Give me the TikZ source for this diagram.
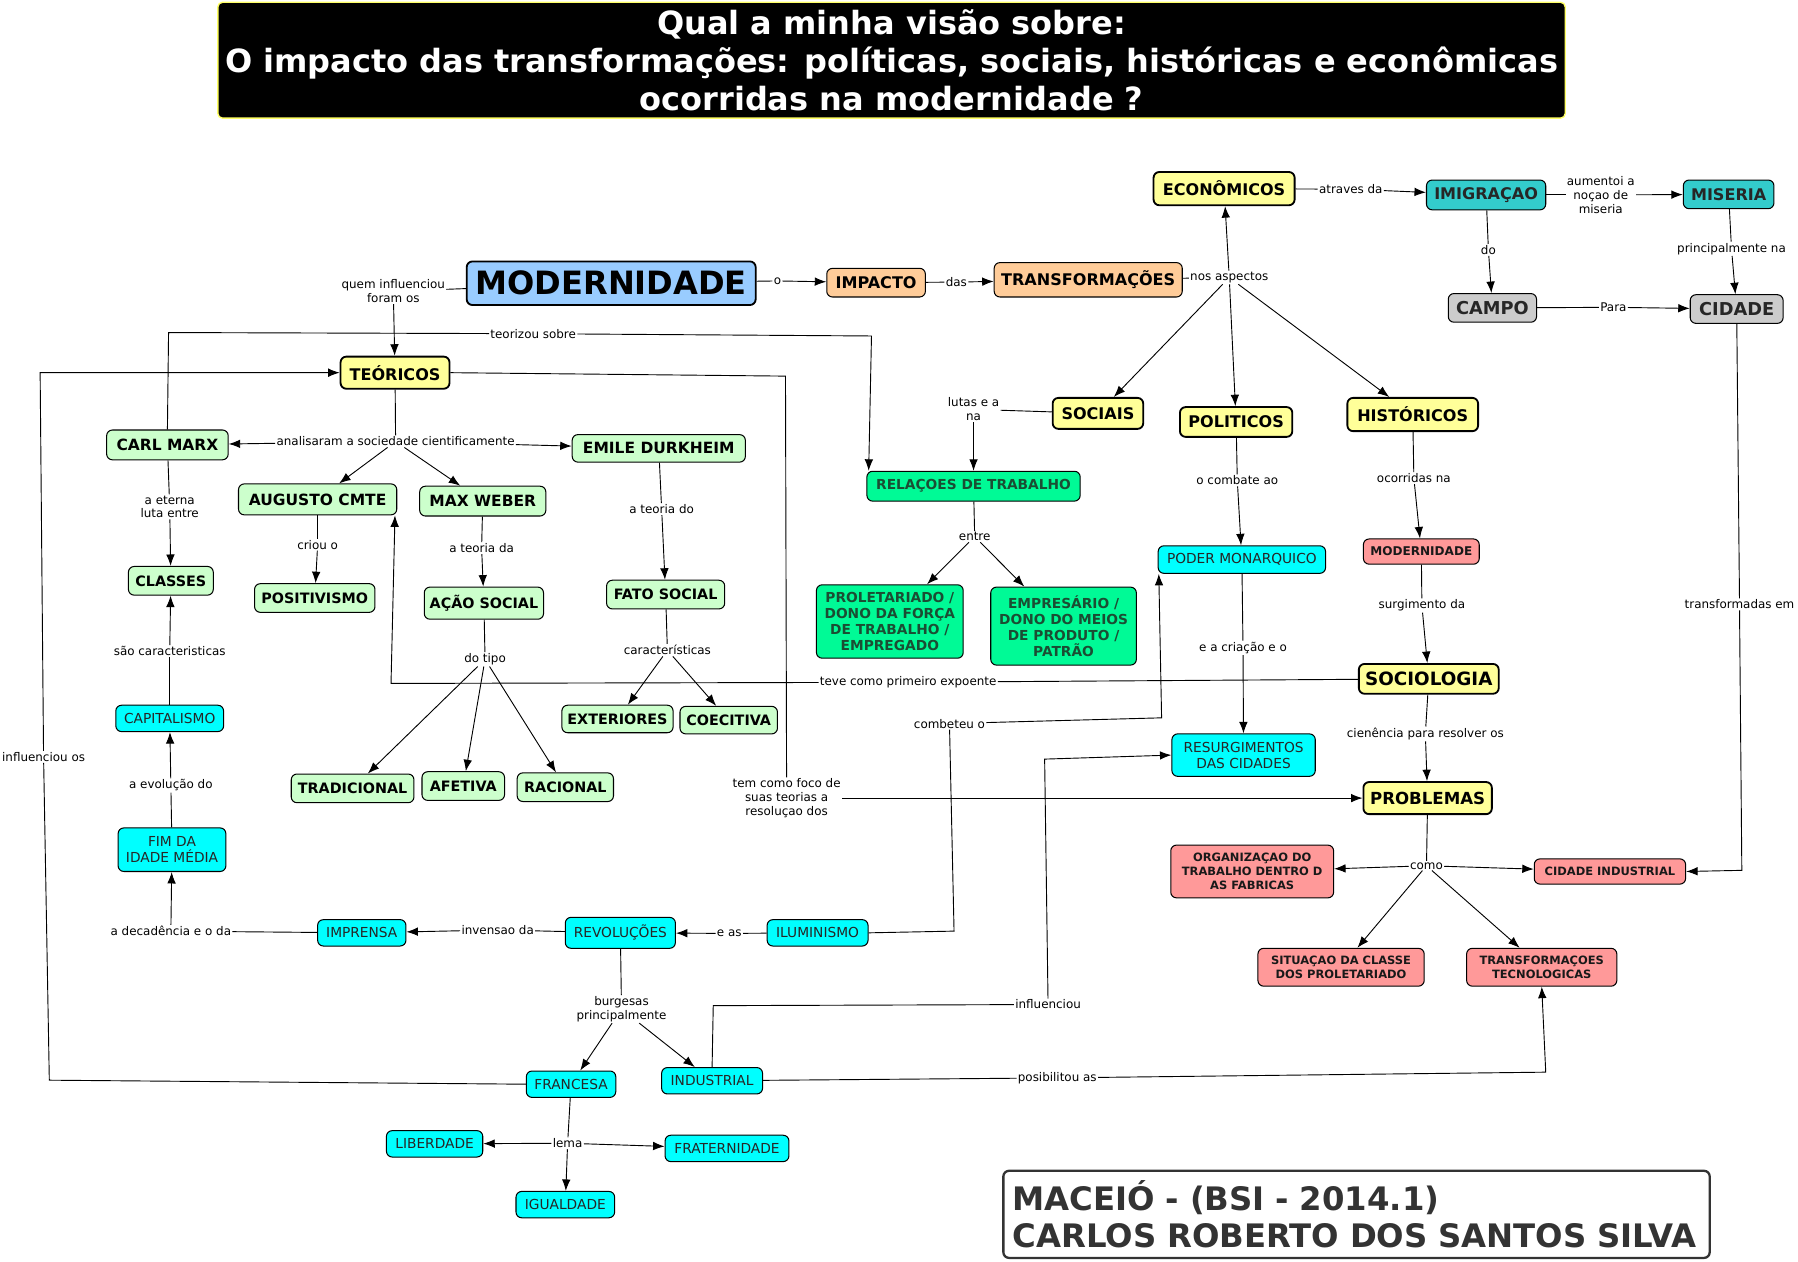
\documentclass[tikz,border=0pt]{standalone}
\usepackage{fontspec}
\setmainfont{DejaVu Sans}
\usetikzlibrary{arrows.meta,calc}
\definecolor{cyel}{HTML}{FFFF99}
\definecolor{cblue}{HTML}{99CCFF}
\definecolor{corange}{HTML}{FFCC99}
\definecolor{cteal}{HTML}{33CCCC}
\definecolor{cgray}{HTML}{CCCCCC}
\definecolor{clgreen}{HTML}{CCFFCC}
\definecolor{cgreen}{HTML}{00FA96}
\definecolor{cgtext}{HTML}{1B4D33}
\definecolor{ccyan}{HTML}{00FFFF}
\definecolor{csalmon}{HTML}{FF9999}
\definecolor{cdark}{HTML}{333333}
\definecolor{ctitleb}{HTML}{FFFF66}
\newcommand\myfs[2]{\fontsize{#1}{#2}\selectfont}
\begin{document}
\begin{tikzpicture}[x=1pt,y=-1pt,
  box/.style={draw=black, rounded corners=5pt, line width=0.9pt, align=center, inner sep=1pt},
  sz/.style 2 args={minimum width=#1, minimum height=#2},
  yel/.style={box, fill=cyel, line width=1.6pt, font=\myfs{14}{16}\bfseries},
  blu/.style={box, fill=cblue, line width=1.6pt, font=\myfs{28}{32}\bfseries},
  ora/.style={box, fill=corange, font=\myfs{14}{16}\bfseries},
  tea/.style={box, fill=cteal, font=\myfs{14}{16}\bfseries, text=black!85},
  gry/.style={box, fill=cgray, font=\myfs{15.5}{17}\bfseries, text=black!85},
  lgr/.style={box, fill=clgreen, font=\myfs{13.5}{16}\bfseries},
  lgs/.style={box, fill=clgreen, font=\myfs{12.5}{15}\bfseries},
  grn/.style={box, fill=cgreen, font=\myfs{12}{14}\bfseries, text=cgtext},
  cya/.style={box, fill=ccyan, font=\myfs{12}{14}, text=black!85},
  sal/.style={box, fill=csalmon, font=\myfs{10}{12.5}\bfseries, text=black!90},
  lab/.style={font=\myfs{10.4}{12}, align=center, inner sep=1pt},
  conn/.style={line width=0.8pt},
  arr/.style={-{Latex[length=10pt,width=7.5pt]}}
]
\useasboundingbox (0,0) rectangle (1568,1100);

% title and author
\node[fill=black, draw=ctitleb, line width=1.2pt, rounded corners=4pt, sz={1175}{101},
      text=white, font=\myfs{27.9}{33}\bfseries, align=center, inner sep=0pt] (title) at (777.5,52.5)
  {Qual a minha visão sobre:\\O impacto das transformações: políticas, sociais, históricas e econômicas\\ocorridas na modernidade ?};
\node[draw=cdark, line width=2pt, rounded corners=5pt, fill=white, text=cdark,
      font=\myfs{28.2}{32}\bfseries, align=left, text width=600pt, inner xsep=8pt, inner ysep=6pt, minimum height=76] (author) at (1183,1059)
  {MACEIÓ - (BSI - 2014.1)\\CARLOS ROBERTO DOS SANTOS SILVA};

% concept nodes
\node[blu, sz={252}{38}] (modern) at (533,247) {MODERNIDADE};
\node[ora, sz={86}{25}] (impacto) at (764,246.5) {IMPACTO};
\node[ora, sz={164}{30}] (transf) at (949,244) {TRANSFORMAÇÕES};
\node[yel, sz={123}{29}] (econ) at (1067.5,164.5) {ECONÔMICOS};
\node[tea, sz={104}{26}] (imig) at (1296,170) {IMIGRAÇAO};
\node[tea, sz={79}{25}] (miseria) at (1507.5,169.5) {MISERIA};
\node[gry, sz={77}{25}] (campo) at (1301.5,268.5) {CAMPO};
\node[gry, sz={81}{25}] (cidade) at (1514.5,269.5) {CIDADE};
\node[yel, sz={79}{27}] (sociais) at (957.5,360.5) {SOCIAIS};
\node[yel, sz={98}{26}] (politicos) at (1078,368) {POLITICOS};
\node[yel, sz={114}{29}] (historicos) at (1232,361.5) {HISTÓRICOS};
\node[grn, sz={186}{26}] (relacoes) at (849,424) {RELAÇOES DE TRABALHO};
\node[grn, sz={128}{64}] (prolet) at (776,542) {PROLETARIADO /\\DONO DA FORÇA\\DE TRABALHO /\\EMPREGADO};
\node[grn, sz={127}{68}] (empres) at (927.5,546) {EMPRESÁRIO /\\DONO DO MEIOS\\DE PRODUTO /\\PATRÃO};
\node[cya, sz={146}{24}] (poder) at (1083,488) {PODER MONARQUICO};
\node[sal, sz={101}{22}, font=\myfs{10.5}{12}\bfseries] (modern2) at (1239.5,481) {MODERNIDADE};
\node[yel, sz={122}{26}, font=\myfs{16}{18}\bfseries] (sociol) at (1246,592) {SOCIOLOGIA};
\node[cya, sz={125}{37}] (resurg) at (1084.5,658.5) {RESURGIMENTOS\\DAS CIDADES};
\node[yel, sz={112}{28}, font=\myfs{14.5}{16}\bfseries] (problemas) at (1245,696) {PROBLEMAS};
\node[sal, sz={142}{46}] (orga) at (1092,760) {ORGANIZAÇAO DO\\TRABALHO DENTRO D\\AS FABRICAS};
\node[sal, sz={132}{22}] (cidind) at (1404,760) {CIDADE INDUSTRIAL};
\node[sal, sz={145}{33}] (situ) at (1169.5,843.5) {SITUAÇAO DA CLASSE\\DOS PROLETARIADO};
\node[sal, sz={131}{33}] (ttec) at (1344.5,843.5) {TRANSFORMAÇOES\\TECNOLOGICAS};

\node[yel, sz={95}{28}] (teoricos) at (344.5,325) {TEÓRICOS};
\node[lgr, sz={106}{26}] (carl) at (146,388) {CARL MARX};
\node[lgr, sz={151}{24}] (emile) at (574.5,391) {EMILE DURKHEIM};
\node[lgr, sz={138}{27}] (augusto) at (277,435.5) {AUGUSTO CMTE};
\node[lgr, sz={110}{26}] (maxweber) at (421,437) {MAX WEBER};
\node[lgs, sz={74}{25}] (classes) at (149,506.5) {CLASSES};
\node[lgs, sz={105}{25}] (positiv) at (274.5,521.5) {POSITIVISMO};
\node[lgs, sz={104}{28}] (acao) at (422,526) {AÇÃO SOCIAL};
\node[lgs, sz={103}{25}] (fato) at (580.5,518.5) {FATO SOCIAL};
\node[lgs, sz={97}{24}] (exter) at (538.5,627) {EXTERIORES};
\node[lgs, sz={85}{24}] (coec) at (635.5,628) {COECITIVA};
\node[lgs, sz={107}{25}] (tradic) at (307.5,687.5) {TRADICIONAL};
\node[lgs, sz={72}{25}] (afetiva) at (404,685.5) {AFETIVA};
\node[lgs, sz={84}{25}] (racional) at (493,686.5) {RACIONAL};
\node[cya, sz={94}{23}] (capital) at (148,626.5) {CAPITALISMO};
\node[cya, sz={94}{38}] (fim) at (150,741) {FIM DA\\IDADE MÉDIA};
\node[cya, sz={77}{23}] (imprensa) at (315.5,813.5) {IMPRENSA};
\node[cya, sz={96}{27}] (revol) at (541,813.5) {REVOLUÇÕES};
\node[cya, sz={88}{23}] (ilum) at (713,813.5) {ILUMINISMO};
\node[cya, sz={78}{23}] (francesa) at (498,945.5) {FRANCESA};
\node[cya, sz={88}{23}] (industrial) at (621,942.5) {INDUSTRIAL};
\node[cya, sz={84}{23}] (liberd) at (379,997.5) {LIBERDADE};
\node[cya, sz={108}{23}] (frat) at (634,1001.5) {FRATERNIDADE};
\node[cya, sz={86}{23}] (igual) at (493,1050.5) {IGUALDADE};

% linking phrases
\node[lab] (lo) at (678,245) {o};
\node[lab] (ldas) at (834,246) {das};
\node[lab] (lnos) at (1072,242) {nos aspectos};
\node[lab] (latr) at (1178,165) {atraves da};
\node[lab] (laum) at (1396,170) {aumentoi a\\noçao de\\miseria};
\node[lab] (ldo) at (1298,218) {do};
\node[lab] (lpri) at (1510,217) {principalmente na};
\node[lab] (lpara) at (1407,268) {Para};
\node[lab] (ltrem) at (1517,527) {transformadas em};
\node[lab] (llut) at (849,357) {lutas e a\\na};
\node[lab] (lteor) at (465,291) {teorizou sobre};
\node[lab] (lentre) at (850,468) {entre};
\node[lab] (lcomb) at (1079,419) {o combate ao};
\node[lab] (lcria) at (1084,565) {e a criação e o};
\node[lab] (locor) at (1233,417) {ocorridas na};
\node[lab] (lsurg) at (1240,528) {surgimento da};
\node[lab] (lteve) at (792,595) {teve como primeiro expoente};
\node[lab] (lcien) at (1243,640) {cienência para resolver os};
\node[lab] (lfoco) at (686,696) {tem como foco de\\suas teorias a\\resoluçao dos};
\node[lab] (lcomo) at (1244,755) {como};
\node[lab] (lquem) at (343,254) {quem influenciou\\foram os};
\node[lab] (lanal) at (345,385) {analisaram a sociedade cientificamente};
\node[lab] (leter) at (148,442) {a eterna\\luta entre};
\node[lab] (lcriou) at (277,475) {criou o};
\node[lab] (lteda) at (420,478) {a teoria da};
\node[lab] (ltedo) at (577,444) {a teoria do};
\node[lab] (ltipo) at (423,575) {do tipo};
\node[lab] (lcara) at (582,567) {características};
\node[lab] (lsao) at (148,568) {são caracteristicas};
\node[lab] (levol) at (149,685) {a evolução do};
\node[lab] (ldeca) at (149,812) {a decadência e o da};
\node[lab] (linve) at (434,811) {invensao da};
\node[lab] (leas) at (636,814) {e as};
\node[lab] (lcombt) at (828,631) {combeteu o};
\node[lab] (lburg) at (542,880) {burgesas\\principalmente};
\node[lab] (linfos) at (38,660) {influenciou os};
\node[lab] (linfl) at (914,876) {influenciou};
\node[lab] (lposs) at (922,940) {posibilitou as};
\node[lab] (llema) at (495,997) {lema};

% connectors
\draw[conn] (modern) -- (lo); \draw[conn,arr] (lo) -- (impacto);
\draw[conn] (impacto) -- (ldas); \draw[conn,arr] (ldas) -- (transf);
\draw[conn] (transf) -- (lnos);
\foreach \t in {econ,sociais,politicos,historicos} \draw[conn,arr] (lnos) -- (\t);
\draw[conn] (econ) -- (latr); \draw[conn,arr] (latr) -- (imig);
\draw[conn] (imig) -- (laum); \draw[conn,arr] (laum) -- (miseria);
\draw[conn] (imig) -- (ldo); \draw[conn,arr] (ldo) -- (campo);
\draw[conn] (miseria) -- (lpri); \draw[conn,arr] (lpri) -- (cidade);
\draw[conn] (campo) -- (lpara); \draw[conn,arr] (lpara) -- (cidade);
\draw[conn] (cidade) -- (ltrem); \draw[conn,arr] (ltrem.south) -- (1519,759) -- (cidind.east);
\draw[conn] (sociais) -- (llut); \draw[conn,arr] (llut) -- (relacoes);
\draw[conn] (carl.north) -- (147,290) -- (lteor);
\draw[conn,arr] (lteor) -- (760,293) -- ([xshift=2pt]relacoes.north west);
\draw[conn] (relacoes) -- (lentre);
\draw[conn,arr] (lentre) -- (prolet); \draw[conn,arr] (lentre) -- (empres);
\draw[conn] (politicos) -- (lcomb); \draw[conn,arr] (lcomb) -- (poder);
\draw[conn] (poder) -- (lcria); \draw[conn,arr] (lcria) -- (resurg);
\draw[conn] (historicos) -- (locor); \draw[conn,arr] (locor) -- (modern2);
\draw[conn] (modern2) -- (lsurg); \draw[conn,arr] (lsurg) -- (sociol);
\draw[conn] (sociol) -- (lteve);
\draw[conn,arr] (lteve) -- (341,596) -- ([xshift=-2pt]augusto.south east);
\draw[conn] (sociol) -- (lcien); \draw[conn,arr] (lcien) -- (problemas);
\draw[conn] (teoricos.east) -- (685,328) -- (lfoco); \draw[conn,arr] (lfoco) -- (problemas);
\draw[conn] (problemas) -- (lcomo);
\foreach \t in {orga,cidind,situ,ttec} \draw[conn,arr] (lcomo) -- (\t);
\draw[conn] (modern) -- (lquem); \draw[conn,arr] (lquem) -- (teoricos);
\draw[conn] (teoricos) -- (lanal);
\foreach \t in {carl,emile,augusto,maxweber} \draw[conn,arr] (lanal) -- (\t);
\draw[conn] (carl) -- (leter); \draw[conn,arr] (leter) -- (classes);
\draw[conn] (augusto) -- (lcriou); \draw[conn,arr] (lcriou) -- (positiv);
\draw[conn] (maxweber) -- (lteda); \draw[conn,arr] (lteda) -- (acao);
\draw[conn] (emile) -- (ltedo); \draw[conn,arr] (ltedo) -- (fato);
\draw[conn] (acao) -- (ltipo);
\foreach \t in {tradic,afetiva,racional} \draw[conn,arr] (ltipo) -- (\t);
\draw[conn] (fato) -- (lcara);
\foreach \t in {exter,coec} \draw[conn,arr] (lcara) -- (\t);
\draw[conn] (capital) -- (lsao); \draw[conn,arr] (lsao) -- (classes);
\draw[conn] (fim) -- (levol); \draw[conn,arr] (levol) -- (capital);
\draw[conn] (imprensa) -- (ldeca); \draw[conn,arr] (ldeca) -- (fim);
\draw[conn] (revol) -- (linve); \draw[conn,arr] (linve) -- (imprensa);
\draw[conn] (ilum) -- (leas); \draw[conn,arr] (leas) -- (revol);
\draw[conn] (ilum.east) -- (832,812) -- (lcombt);
\draw[conn,arr] (lcombt) -- (1013,626) -- ([xshift=1pt]poder.south west);
\draw[conn] (revol) -- (lburg);
\foreach \t in {francesa,industrial} \draw[conn,arr] (lburg) -- (\t);
\draw[conn] (francesa.west) -- (43,942) -- (linfos);
\draw[conn,arr] (linfos) -- (35,325) -- (teoricos.west);
\draw[conn] (industrial.north) -- (622,877) -- (linfl);
\draw[conn,arr] (linfl) -- (911,662) -- (resurg.west);
\draw[conn] (industrial) -- (lposs); \draw[conn,arr] (lposs) -- (1348,935) -- (ttec.south);
\draw[conn] (francesa) -- (llema);
\foreach \t in {liberd,frat,igual} \draw[conn,arr] (llema) -- (\t);
\end{tikzpicture}
\end{document}
